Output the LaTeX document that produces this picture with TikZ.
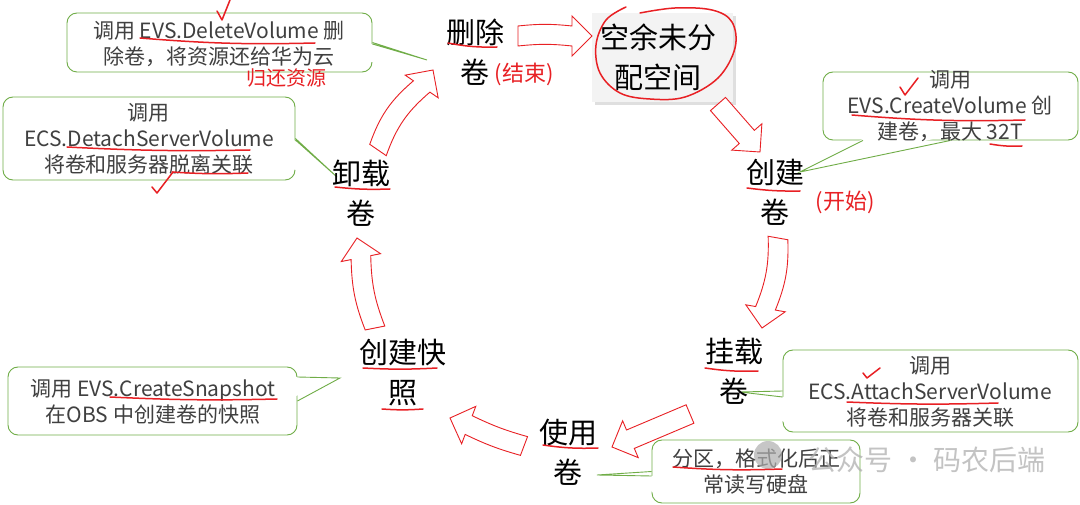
\documentclass[tikz,border=0pt]{standalone}
\usepackage{fontspec}
\setmainfont{Noto Sans CJK SC}
\usetikzlibrary{calc,shadows}
\definecolor{cgreen}{RGB}{112,173,71}
\definecolor{ctext}{RGB}{64,64,64}
\definecolor{cred}{RGB}{232,32,36}
\definecolor{cfill}{RGB}{243,243,243}
\definecolor{wmark}{RGB}{175,175,175}
% block arrow: #1 start, #2 tip, #3 bend, #4 name of head-base coordinate
\newcommand\blockarr[4]{%
  \coordinate (#4) at ($(#2)!20pt!(#1)$);
  \draw[barrow] ($(#1)!10pt!90:(#2)$) to[bend left=#3] ($(#4)!10pt!-90:(#1)$)
     -- ($(#4)!20pt!-90:(#1)$) -- (#2) -- ($(#4)!20pt!90:(#1)$)
     -- ($(#4)!10pt!90:(#1)$) to[bend right=#3] ($(#1)!10pt!-90:(#2)$) -- cycle;}
% callout tail: #1 base1, #2 tip, #3 base2, #4 inward shift
\newcommand\ctail[4]{%
  \fill[white] ($#1+#4$) -- #2 -- ($#3+#4$) -- cycle;
  \draw[tail] #1 -- #2 -- #3;}
\begin{document}
\begin{tikzpicture}[x=1pt,y=-1pt,
  lbl/.style={font=\fontsize{29}{40}\selectfont, align=center, inner sep=0pt, text=black},
  cbox/.style={draw=cgreen, line width=0.9pt, rounded corners=10pt, fill=white, inner sep=0pt},
  ctxt/.style={font=\fontsize{21}{26}\selectfont, align=center, inner sep=0pt, text=ctext},
  redtxt/.style={font=\fontsize{22}{26}\selectfont, inner sep=0pt, text=cred},
  hand/.style={draw=cred, line width=1.5pt, line cap=round, line join=round},
  tail/.style={draw=cgreen, line width=0.9pt, line join=miter},
  barrow/.style={draw=cred, line width=0.9pt, fill=white, line join=miter},
  freebox/.style={fill=cfill, inner sep=0pt, minimum width=141pt, minimum height=89pt,
     drop shadow={shadow xshift=3pt, shadow yshift=-3pt, opacity=0.25}},
]
\fill[white] (0,0) rectangle (1080,505);
\useasboundingbox (0,0) rectangle (1080,505);

% ---------- callout boxes ----------
\node[cbox, minimum width=305pt, minimum height=59pt] (c1) at (219.5,42.5) {};
\node[cbox, minimum width=292pt, minimum height=83pt] (c2) at (149,138.5) {};
\node[cbox, minimum width=255pt, minimum height=68pt] (c3) at (950.5,106) {};
\node[cbox, minimum width=295pt, minimum height=82pt] (c4) at (930.5,391) {};
\node[cbox, minimum width=208pt, minimum height=63pt] (c5) at (756,471.5) {};
\node[cbox, minimum width=289pt, minimum height=68pt] (c6) at (152.5,401) {};

% tail tips
\coordinate (t1) at (427,60);
\coordinate (t2) at (337,177);
\coordinate (t3) at (800,172);
\coordinate (t4) at (740,392);
\coordinate (t5) at (597,475);
\coordinate (t6) at (340,378);

\ctail{(c1.east)+(0,1.5)}{(t1)}{(c1.east)+(0,19.5)}{(-1.5,0)}
\ctail{(c2.east)+(0,1.5)}{(t2)}{(c2.east)+(0,31)}{(-1.5,0)}
\ctail{(c3.south)+(-87.5,0)}{(t3)}{(c3.south)+(-17.5,0)}{(0,-1.5)}
\ctail{(c4.west)+(0,6)}{(t4)}{(c4.west)+(0,31)}{(1.5,0)}
\ctail{(c5.west)+(0,4.5)}{(t5)}{(c5.west)+(0,20.5)}{(1.5,0)}
\ctail{(c6.east)+(0,-24)}{(t6)}{(c6.east)+(0,-5)}{(-1.5,0)}

% callout texts
\node[ctxt] (c1t) at (219,44) {调用 EVS.DeleteVolume 删\\除卷，将资源还给华为云};
\node[ctxt] (c2t) at (149,139) {调用\\ECS.DetachServerVolume\\将卷和服务器脱离关联};
\node[ctxt] (c3t) at (950,106) {调用\\EVS.CreateVolume 创\\建卷，最大 32T};
\node[ctxt] (c4t) at (930,392) {调用\\ECS.AttachServerVolume\\将卷和服务器关联};
\node[ctxt] (c5t) at (756,471.5) {分区，格式化后正\\常读写硬盘};
\node[ctxt] (c6t) at (153,401.5) {调用 EVS.CreateSnapshot\\在OBS 中创建卷的快照};

% ---------- watermark ----------
\fill[wmark, opacity=0.7] (768,455) circle (14);
\node[font=\fontsize{28}{30}\selectfont, text=wmark, opacity=0.75, inner sep=0pt] (wm) at (927,460) {公众号 · 码农后端};

% ---------- main labels ----------
\node[freebox] (free) at (662.5,57.5) {};
\node[lbl] (freet) at (658,57.5) {空余未分\\配空间};
\node[lbl] (del) at (475,52) {删除\\卷};
\node[lbl] (create) at (775,192.5) {创建\\卷};
\node[lbl] (attach) at (734,371.5) {挂载\\卷};
\node[lbl] (use) at (568,452.5) {使用\\卷};
\node[lbl] (snap) at (403,372.5) {创建快\\照};
\node[lbl] (unmount) at (361,193) {卸载\\卷};

\node[redtxt] (endtxt) at (524,74) {(结束)};
\node[redtxt] (starttxt) at (845,202) {(开始)};
\node[redtxt, font=\fontsize{20}{24}\selectfont] (backtxt) at (286,78) {归还资源};

% ---------- block arrows ----------
\coordinate (a1s) at (518,36);   \coordinate (a1t) at (592,36);
\coordinate (a2s) at (718,104);  \coordinate (a2t) at (760,152);
\coordinate (a3s) at (778,238);  \coordinate (a3t) at (762,328);
\coordinate (a4s) at (690,414);  \coordinate (a4t) at (612,447);
\coordinate (a5s) at (524,446);  \coordinate (a5t) at (450,418);
\coordinate (a6s) at (375,328);  \coordinate (a6t) at (357,238);
\coordinate (a7s) at (378,150);  \coordinate (a7t) at (433,70);
\blockarr{a1s}{a1t}{6}{a1b}
\blockarr{a2s}{a2t}{0}{a2b}
\blockarr{a3s}{a3t}{12}{a3b}
\blockarr{a4s}{a4t}{0}{a4b}
\blockarr{a5s}{a5t}{5}{a5b}
\blockarr{a6s}{a6t}{10}{a6b}
\blockarr{a7s}{a7t}{15}{a7b}

% ---------- hand-drawn red marks ----------
\draw[hand] plot[smooth, tension=0.6] coordinates {(626,7) (606,20) (596,45) (600,73) (620,93) (650,99) (685,97) (718,78) (735,48) (732,22) (712,10) (675,8) (640,13)};
% underlines
\draw[hand] (448,43) to[bend right=6] (497,47);
\draw[hand] (140,38) to[bend right=3] (315,43);
\draw[hand] (335,187) to[bend right=4] (390,189);
\draw[hand] (67,147) to[bend right=2] (250,150);
\draw[hand] (172,172) to[bend right=3] (248,173);
\draw[hand] (747,188) to[bend right=4] (800,191);
\draw[hand] (852,115) to[bend right=3] (1025,120);
\draw[hand] (990,144) to[bend right=6] (1022,146);
\draw[hand] (705,368) to[bend right=5] (758,371);
\draw[hand] (847,402) to[bend right=2] (998,403);
\draw[hand] (543,445) to[bend right=5] (598,448);
\draw[hand] (673,467) to[bend right=3] (782,469);
\draw[hand] (363,368) to[bend right=3] (437,368);
\draw[hand] (382,409) to[bend right=4] (423,409);
\draw[hand] (110,397) to[bend right=2] (277,399);
% check marks
\draw[hand] (217,11) -- (222,20) -- (230,0);
\draw[hand] (152,187) -- (157,193) -- (173,172);
\draw[hand] (900,87) -- (905,95) -- (918,78);
\draw[hand] (863,373) -- (867,378) -- (880,368);
\end{tikzpicture}
\end{document}
